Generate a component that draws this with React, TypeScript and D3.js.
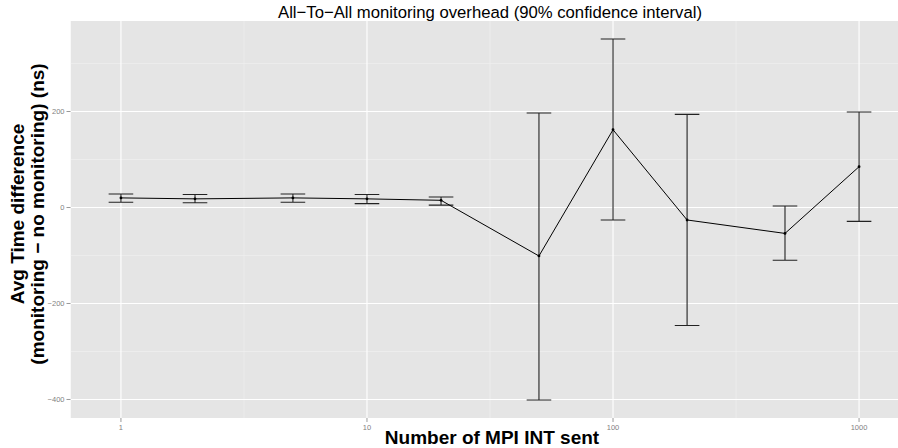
import React, { useEffect, useRef } from 'react';
import * as d3 from 'd3';

// Number of MPI INT sent (x, log scale)
const msgCounts = [1, 2, 5, 10, 20, 50, 100, 200, 500, 1000];
// average time difference (ns) and 90% confidence bounds
const meanDiff = [20, 18, 20, 18, 15, -101, 162, -26, -54, 85];
const ciLow = [11, 10, 11, 8, 5, -401, -26, -246, -110, -29];
const ciHigh = [28, 27, 28, 27, 22, 197, 351, 194, 3, 199];

const xTicks = [1, 10, 100, 1000];
const xMinor = [Math.sqrt(10), Math.sqrt(1000), Math.sqrt(100000)];
const yTicks = [-400, -200, 0, 200];
const yMinor = [-300, -100, 100, 300];

const W = 898;
const H = 448;

const App: React.FC = () => {
  const svgRef = useRef<SVGSVGElement>(null);

  useEffect(() => {
    if (!svgRef.current) return;
    const svg = d3.select(svgRef.current);
    svg.selectAll('*').remove();

    const left = 70.5, top = 21, bottom = 418;
    const panelW = 839;
    const font = 'Liberation Sans, Arial, Helvetica, sans-serif';

    // errorbar half width in decades (ggplot width = 0.1)
    const hw = 0.05;
    const lx = msgCounts.map(d => Math.log10(d));
    const lmin = d3.min(lx)! - hw, lmax = d3.max(lx)! + hw;
    const lpad = (lmax - lmin) * 0.05;
    const x = d3.scaleLog()
      .domain([Math.pow(10, lmin - lpad), Math.pow(10, lmax + lpad)])
      .range([left, left + panelW]);

    const ymin = d3.min(ciLow)!, ymax = d3.max(ciHigh)!;
    const ypad = (ymax - ymin) * 0.05;
    const y = d3.scaleLinear()
      .domain([ymin - ypad, ymax + ypad])
      .range([bottom, top]);

    const clip = svg.append('defs').append('clipPath').attr('id', 'panel-clip');
    clip.append('rect').attr('x', left).attr('y', top).attr('width', panelW).attr('height', bottom - top);

    const panel = svg.append('g').attr('clip-path', 'url(#panel-clip)');
    panel.append('rect')
      .attr('x', left).attr('y', top)
      .attr('width', panelW).attr('height', bottom - top)
      .attr('fill', '#e5e5e5');

    // minor grid
    panel.selectAll('.ymin').data(yMinor).enter().append('line')
      .attr('x1', left).attr('x2', left + panelW)
      .attr('y1', d => y(d)).attr('y2', d => y(d))
      .attr('stroke', '#f2f2f2').attr('stroke-width', 0.6);
    panel.selectAll('.xmin').data(xMinor).enter().append('line')
      .attr('x1', d => x(d)).attr('x2', d => x(d))
      .attr('y1', top).attr('y2', bottom)
      .attr('stroke', '#f2f2f2').attr('stroke-width', 0.6);

    // major grid
    panel.selectAll('.ymaj').data(yTicks).enter().append('line')
      .attr('x1', left).attr('x2', left + panelW)
      .attr('y1', d => y(d)).attr('y2', d => y(d))
      .attr('stroke', '#ffffff').attr('stroke-width', 1.1);
    panel.selectAll('.xmaj').data(xTicks).enter().append('line')
      .attr('x1', d => x(d)).attr('x2', d => x(d))
      .attr('y1', top).attr('y2', bottom)
      .attr('stroke', '#ffffff').attr('stroke-width', 1.1);

    const pts = msgCounts.map((c, i) => ({ c, m: meanDiff[i], lo: ciLow[i], hi: ciHigh[i] }));

    // error bars
    const eb = panel.append('g').attr('stroke', '#222').attr('stroke-width', 1.1).attr('fill', 'none');
    pts.forEach(p => {
      const x0 = x(p.c / Math.pow(10, hw)), x1 = x(p.c * Math.pow(10, hw));
      eb.append('path')
        .attr('d', `M${x0},${y(p.hi)}H${x1}M${x(p.c)},${y(p.hi)}V${y(p.lo)}M${x0},${y(p.lo)}H${x1}`);
    });

    // mean line
    const line = d3.line<typeof pts[0]>().x(d => x(d.c)).y(d => y(d.m));
    panel.append('path').datum(pts)
      .attr('d', line)
      .attr('fill', 'none').attr('stroke', '#000').attr('stroke-width', 1);

    panel.selectAll('.pt').data(pts).enter().append('circle')
      .attr('cx', d => x(d.c)).attr('cy', d => y(d.m))
      .attr('r', 1.4).attr('fill', '#000');

    // axes ticks and labels
    const tickCol = '#7f7f7f';
    yTicks.forEach(t => {
      svg.append('line').attr('x1', left - 4).attr('x2', left).attr('y1', y(t)).attr('y2', y(t))
        .attr('stroke', tickCol).attr('stroke-width', 0.8);
      svg.append('text').attr('x', left - 6).attr('y', y(t)).attr('dy', '0.35em')
        .attr('text-anchor', 'end').attr('font-family', font).attr('font-size', 7.5)
        .attr('fill', tickCol).text(t < 0 ? '\u2212' + Math.abs(t) : String(t));
    });
    xTicks.forEach(t => {
      svg.append('line').attr('x1', x(t)).attr('x2', x(t)).attr('y1', bottom).attr('y2', bottom + 4)
        .attr('stroke', tickCol).attr('stroke-width', 0.8);
      svg.append('text').attr('x', x(t)).attr('y', bottom + 12)
        .attr('text-anchor', 'middle').attr('font-family', font).attr('font-size', 7.5)
        .attr('fill', tickCol).text(String(t));
    });

    const cx = left + panelW / 2;
    svg.append('text').attr('x', cx).attr('y', 18)
      .attr('text-anchor', 'middle').attr('font-family', font).attr('font-size', 16.7)
      .attr('fill', '#000').text('All\u2212To\u2212All monitoring overhead (90% confidence interval)');

    svg.append('text').attr('x', cx + 2).attr('y', 444)
      .attr('text-anchor', 'middle').attr('font-family', font).attr('font-size', 19)
      .attr('font-weight', 'bold').attr('fill', '#000').text('Number of MPI INT sent');

    const cy = 214;
    const yt = svg.append('text')
      .attr('transform', `translate(0,${cy}) rotate(-90)`)
      .attr('text-anchor', 'middle').attr('font-family', font).attr('font-size', 19)
      .attr('font-weight', 'bold').attr('fill', '#000');
    yt.append('tspan').attr('x', 0).attr('y', 24).text('Avg Time difference');
    yt.append('tspan').attr('x', 0).attr('y', 44).text('(monitoring \u2212 no monitoring) (ns)');
  }, []);

  return (
    <div style={{ position: 'fixed', left: 0, top: 0, width: W, height: H, background: '#fff' }}>
      <svg ref={svgRef} width={W} height={H} style={{ display: 'block' }} />
    </div>
  );
};

export default App;
